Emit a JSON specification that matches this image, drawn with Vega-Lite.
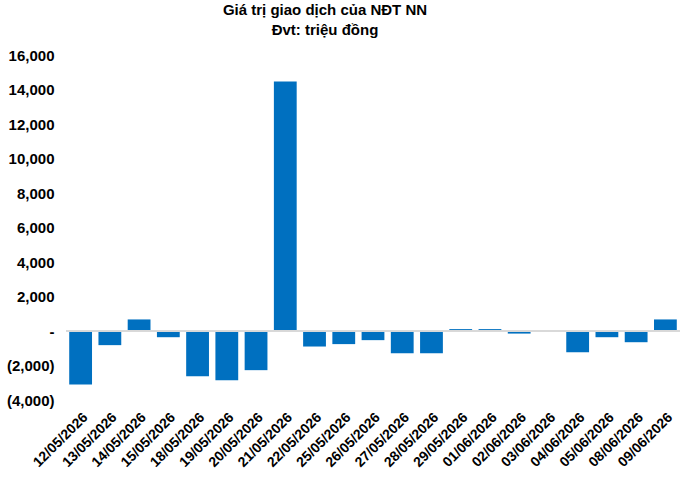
{
  "$schema": "https://vega.github.io/schema/vega-lite/v6.json",
  "autosize": {"type": "none"},
  "width": 614,
  "height": 345,
  "padding": {"left": 66, "top": 55, "right": 2, "bottom": 82},
  "background": "white",
  "config": {
    "view": {"stroke": null},
    "font": "Liberation Sans",
    "axisY": {"labelOverlap": false, "tickCount": 11}
  },
  "title": {
    "text": ["Giá trị giao dịch của NĐT NN", "Đvt: triệu đồng"],
    "font": "Liberation Sans",
    "fontSize": 15,
    "fontWeight": "bold",
    "color": "black",
    "anchor": "middle",
    "dx": -48,
    "offset": 10,
    "lineHeight": 20
  },
  "data": {
    "values": [
      {"date": "12/05/2026", "value": -3100},
      {"date": "13/05/2026", "value": -820},
      {"date": "14/05/2026", "value": 670},
      {"date": "15/05/2026", "value": -360},
      {"date": "18/05/2026", "value": -2620},
      {"date": "19/05/2026", "value": -2850},
      {"date": "20/05/2026", "value": -2270},
      {"date": "21/05/2026", "value": 14460},
      {"date": "22/05/2026", "value": -900},
      {"date": "25/05/2026", "value": -760},
      {"date": "26/05/2026", "value": -530},
      {"date": "27/05/2026", "value": -1290},
      {"date": "28/05/2026", "value": -1290},
      {"date": "29/05/2026", "value": 110},
      {"date": "01/06/2026", "value": 110},
      {"date": "02/06/2026", "value": -150},
      {"date": "03/06/2026", "value": 0},
      {"date": "04/06/2026", "value": -1230},
      {"date": "05/06/2026", "value": -360},
      {"date": "08/06/2026", "value": -650},
      {"date": "09/06/2026", "value": 670}
    ]
  },
  "layer": [
    {
      "mark": {"type": "bar", "color": "#0070C0"},
      "encoding": {
        "x": {
          "field": "date",
          "type": "nominal",
          "sort": null,
          "scale": {"paddingInner": 0.22, "paddingOuter": 0.11},
          "axis": {
            "title": null,
            "domain": false,
            "ticks": false,
            "labelAngle": -45,
            "labelFont": "Liberation Sans",
            "labelFontSize": 14,
            "labelFontWeight": "bold",
            "labelColor": "black",
            "labelPadding": 10,
            "labelOverlap": false
          }
        },
        "y": {
          "field": "value",
          "type": "quantitative",
          "scale": {"domain": [-4000, 16000], "nice": false, "zero": false},
          "axis": {
            "title": null,
            "domain": false,
            "ticks": false,
            "grid": false,
            "tickCount": 11,
            "values": [-4000, -2000, 0, 2000, 4000, 6000, 8000, 10000, 12000, 14000, 16000],
            "labelExpr": "datum.value == 0 ? '-' : (datum.value < 0 ? '(' + format(-datum.value, ',') + ')' : format(datum.value, ','))",
            "labelFont": "Liberation Sans",
            "labelFontSize": 15,
            "labelFontWeight": "bold",
            "labelColor": "black",
            "labelPadding": 12,
            "labelOverlap": false,
            "labelBound": false
          }
        }
      }
    },
    {
      "mark": {"type": "rule", "color": "#d9d9d9", "strokeWidth": 1.5},
      "encoding": {
        "y": {
          "datum": 0,
          "type": "quantitative",
          "scale": {"domain": [-4000, 16000], "nice": false, "zero": false},
          "axis": {
            "title": null,
            "domain": false,
            "ticks": false,
            "grid": false,
            "tickCount": 11,
            "values": [-4000, -2000, 0, 2000, 4000, 6000, 8000, 10000, 12000, 14000, 16000],
            "labelExpr": "datum.value == 0 ? '-' : (datum.value < 0 ? '(' + format(-datum.value, ',') + ')' : format(datum.value, ','))",
            "labelFont": "Liberation Sans",
            "labelFontSize": 15,
            "labelFontWeight": "bold",
            "labelColor": "black",
            "labelPadding": 12,
            "labelOverlap": false,
            "labelBound": false
          }
        }
      }
    }
  ]
}
